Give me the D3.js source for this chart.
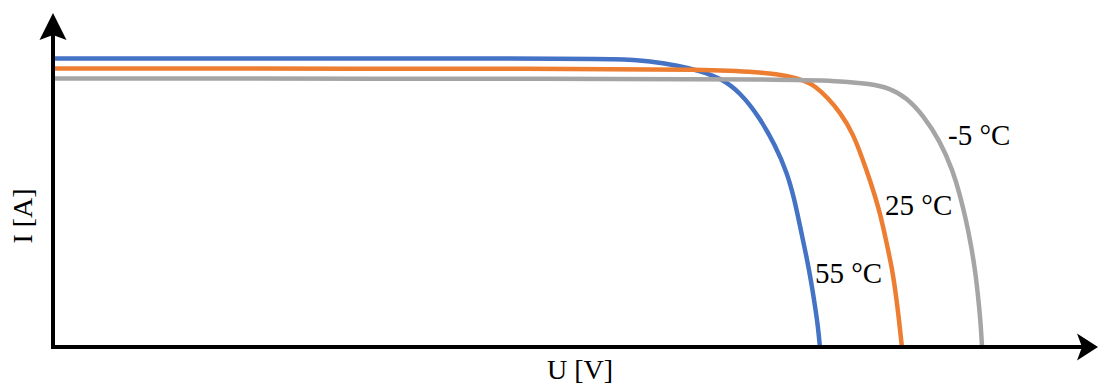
<!DOCTYPE html>
<html>
<head>
<meta charset="utf-8">
<script src="https://cdn.jsdelivr.net/npm/d3@7"></script>
<style>
  html, body { margin: 0; padding: 0; background: #fff; }
  svg { display: block; }
  text { font-family: "Liberation Serif", "Times New Roman", serif; fill: #000; }
</style>
</head>
<body>
<svg id="chart" width="1098" height="383"></svg>
<script>
// I-V characteristics of a PV module at three cell temperatures
// voltage U [V] and current I [A] for each curve
const u55 = [0, 24.24, 27.66, 29.12, 30.59, 31.56, 32.54, 33.51, 34.49, 35.22, 35.80, 36.15, 36.44, 36.73, 36.98, 37.17, 37.32, 37.41];
const i55 = [9.62, 9.62, 9.60, 9.53, 9.37, 9.20, 8.97, 8.50, 7.63, 6.73, 5.83, 4.97, 4.03, 3.10, 2.20, 1.37, 0.67, 0];

const u25 = [0, 26.68, 31.56, 34.49, 35.95, 36.68, 37.17, 37.76, 38.39, 39.02, 39.51, 39.85, 40.34, 40.63, 40.93, 41.12, 41.27, 41.41];
const i25 = [9.28, 9.28, 9.25, 9.17, 9.03, 8.87, 8.70, 8.33, 7.83, 7.13, 6.23, 5.57, 4.50, 3.57, 2.63, 1.73, 0.90, 0];

const uM5 = [0, 26.68, 35.46, 38.39, 39.85, 40.83, 41.66, 42.44, 43.27, 43.90, 44.24, 44.54, 44.78, 44.98, 45.12, 45.24, 45.32];
const iM5 = [8.95, 8.94, 8.92, 8.87, 8.77, 8.63, 8.30, 7.73, 6.87, 5.87, 5.07, 4.23, 3.40, 2.57, 1.73, 0.90, 0];

const seriesNames = ["55 °C", "25 °C", "-5 °C"];
const seriesColors = ["#4472C4", "#ED7D31", "#A5A5A5"];
// label anchors (U, I) next to each curve
const labelU = [37.17, 40.59, 43.66];
const labelI = [2.13, 4.40, 6.73];
const xLabel = "U [V]";
const yLabel = "I [A]";

const svg = d3.select("#chart");
const W = 1098;

const x = d3.scaleLinear().domain([0, 50]).range([53, 1078]);
const y = d3.scaleLinear().domain([0, 10]).range([347, 47]);

const series = [
  { pts: u55.map((u, k) => [u, i55[k]]) },
  { pts: u25.map((u, k) => [u, i25[k]]) },
  { pts: uM5.map((u, k) => [u, iM5[k]]) }
].map((s, k) => ({ ...s, name: seriesNames[k], color: seriesColors[k], label: [labelU[k], labelI[k]] }));

const line = d3.line()
  .x(d => x(d[0]))
  .y(d => y(d[1]))
  .curve(d3.curveBasis);

// curves
svg.append("g").selectAll("path")
  .data(series)
  .join("path")
  .attr("d", d => line(d.pts))
  .attr("fill", "none")
  .attr("stroke", d => d.color)
  .attr("stroke-width", 4.5);

// axes with arrow heads
const x0 = x(0), y0 = y(0);
const axes = svg.append("g");
axes.append("line")
  .attr("x1", x0).attr("y1", y0)
  .attr("x2", W - 10).attr("y2", y0)
  .attr("stroke", "#000").attr("stroke-width", 4);
axes.append("line")
  .attr("x1", x0).attr("y1", y0 + 2)
  .attr("x2", x0).attr("y2", 25)
  .attr("stroke", "#000").attr("stroke-width", 4);

// horizontal arrow
const tipX = W;
axes.append("path")
  .attr("d", `M${tipX},${y0} L${tipX - 21},${y0 - 13.5} L${tipX - 16},${y0} L${tipX - 21},${y0 + 13.5} Z`)
  .attr("fill", "#000");
// vertical arrow
const tipY = 13;
axes.append("path")
  .attr("d", `M${x0},${tipY} L${x0 - 13.5},${tipY + 27} L${x0},${tipY + 22} L${x0 + 13.5},${tipY + 27} Z`)
  .attr("fill", "#000");

// axis titles
svg.append("text")
  .attr("x", 580).attr("y", 379)
  .attr("text-anchor", "middle")
  .attr("font-size", 28)
  .text(xLabel);
svg.append("text")
  .attr("transform", `translate(32,216) rotate(-90)`)
  .attr("text-anchor", "middle")
  .attr("font-size", 28)
  .text(yLabel);

// curve labels
svg.append("g").selectAll("text")
  .data(series)
  .join("text")
  .attr("x", d => x(d.label[0]))
  .attr("y", d => y(d.label[1]))
  .attr("font-size", 29)
  .text(d => d.name);
</script>
</body>
</html>
